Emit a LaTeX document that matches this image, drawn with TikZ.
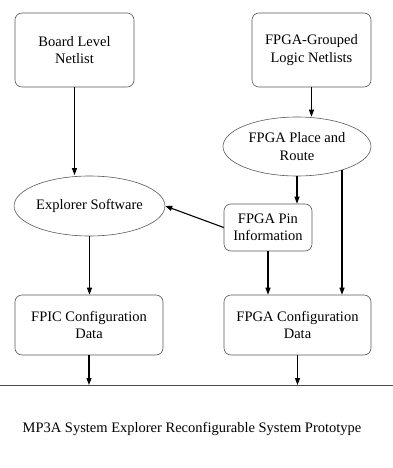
\documentclass[tikz,border=0pt]{standalone}
\usepackage{fontspec}
\setmainfont{Liberation Serif}
\usetikzlibrary{shapes.geometric,arrows.meta}
\begin{document}
\begin{tikzpicture}[x=1pt,y=-1pt,
  txt/.style={font=\fontsize{14.5}{17.5}\selectfont, align=center, text=black},
  rbox/.style={txt, draw=black!65, line width=0.6pt, rounded corners=7pt, inner sep=0pt},
  ell/.style={txt, ellipse, draw=black!65, line width=0.6pt, inner sep=0pt},
  arr/.style={-{Triangle[length=7pt,width=5pt]}, line width=1.1pt, black}]
\useasboundingbox (0,0) rectangle (393,468);
\node[rbox, minimum width=119pt, minimum height=74pt] (board) at (74.5,50) {Board Level\\Netlist};
\node[rbox, minimum width=119pt, minimum height=74pt] (grouped) at (311.5,50) {FPGA-Grouped\\Logic Netlists};
\node[ell, minimum width=148pt, minimum height=59pt] (par) at (297,146.5) {FPGA Place and\\Route};
\node[ell, minimum width=147pt, minimum height=60pt] (explorer) at (89.5,206) {Explorer Software};
\node[rbox, minimum width=88pt, minimum height=47pt] (pin) at (268,227.5) {FPGA Pin\\Information};
\node[rbox, minimum width=148pt, minimum height=60pt] (fpic) at (89,325) {FPIC Configuration\\Data};
\node[rbox, minimum width=147pt, minimum height=60pt] (fconf) at (297.5,325) {FPGA Configuration\\Data};
\coordinate (hlL) at (0,385);
\coordinate (hlR) at (393,385);
\path (par.center) ++(45,23.4) coordinate (pr);
\node[txt] (title) at (192,429) {MP3A System Explorer Reconfigurable System Prototype};

\draw[black!70, line width=0.6pt] (hlL) -- (hlR);
\draw[arr] (board.south) -- ([yshift=0.6pt]board.south |- explorer.north);
\draw[arr] (grouped.south) -- (grouped.south |- par.north);
\draw[arr] (par.south) -- (par.south |- pin.north);
\draw[arr] (pr) -- (pr |- fconf.north);
\draw[arr] (pin.south) -- (pin.south |- fconf.north);
\draw[arr] (pin.west) -- (explorer.east);
\draw[arr] (explorer.south) -- (explorer.south |- fpic.north);
\draw[arr] (fpic.south) -- (fpic.south |- hlL);
\draw[arr] (fconf.south) -- (fconf.south |- hlL);
\end{tikzpicture}
\end{document}
